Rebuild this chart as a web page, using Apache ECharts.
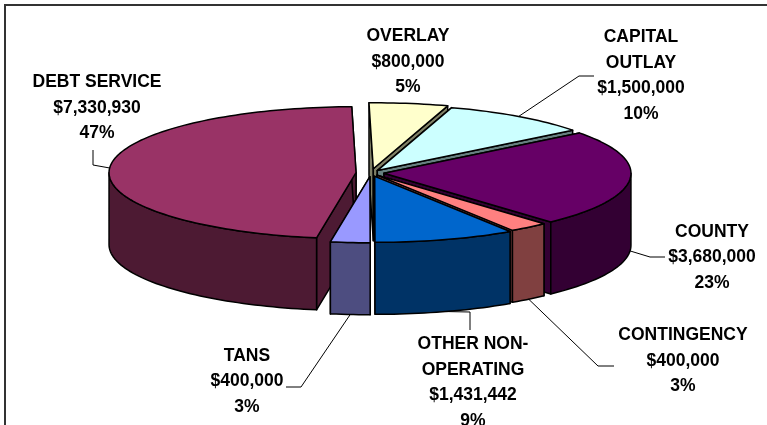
<!DOCTYPE html>
<html><head><meta charset="utf-8">
<style>html,body{margin:0;padding:0;background:#fff;overflow:hidden}#c{width:767px;height:425px}</style>
<script src="https://cdn.jsdelivr.net/npm/echarts@6/dist/echarts.min.js"></script>
</head><body><div id="c"></div>
<script>
// Data, clockwise from the top of the pie
var categories = ['OVERLAY','CAPITAL OUTLAY','COUNTY','CONTINGENCY','OTHER NON-OPERATING','TANS','DEBT SERVICE'];
var values = [800000,1500000,3680000,400000,1431442,400000,7330930];
var amountLabels = ['$800,000','$1,500,000','$3,680,000','$400,000','$1,431,442','$400,000','$7,330,930'];
var percentLabels = ['5%','10%','23%','3%','9%','3%','47%'];
var labelLines = [['OVERLAY'],['CAPITAL','OUTLAY'],['COUNTY'],['CONTINGENCY'],['OTHER NON-','OPERATING'],['TANS'],['DEBT SERVICE']];

// Styling
var topColors = ['#FFFFCC','#CCFFFF','#660066','#FF8080','#0066CC','#9999FF','#993366'];
var wallColors = ['#808066','#668080','#330033','#804040','#003366','#4D4D80','#4D1A33'];
var explode = [16,11,13,10,13,14,15];

// Layout of the pseudo-3D pie
var CX=371, CY=173, RX=247, RY=66, DEPTH=72, START=-1;
var labelCentres = [[408,62],[641,75.5],[712,257.5],[683,361],[473,382.5],[247,381.5],[97,108]];
var leaderElbows = [null,[[579,76],[594,76]],[[650,257],[665,257]],[[598,366],[614,366]],[[470,312],[470,330]],[[301,387],[286,387]],[[93,165],[93,150]]];

var total = values.reduce(function(a,b){return a+b;},0);
var rad = Math.PI/180;
var slices = [], acc = START;
values.forEach(function(v,i){
  var sweep = v/total*360, a0 = acc, a1 = acc+sweep, mid = (a0+a1)/2;
  acc = a1;
  slices.push({i:i,a0:a0,a1:a1,mid:mid,
    cx:CX+explode[i]*Math.sin(mid*rad),
    cy:CY-explode[i]*Math.cos(mid*rad)*RY/RX});
});
function pt(s,a,dz){return [s.cx+RX*Math.sin(a*rad), s.cy-RY*Math.cos(a*rad)+(dz||0)];}
function arc(s,a0,a1,dz){
  var pts=[], n=Math.max(2,Math.ceil((a1-a0)/1.5));
  for(var k=0;k<=n;k++) pts.push(pt(s,a0+(a1-a0)*k/n,dz));
  return pts;
}
// back-to-front painting order
var paintOrder = slices.slice().sort(function(a,b){return Math.cos(b.mid*rad)-Math.cos(a.mid*rad);});
var stroke = {stroke:'#000',lineWidth:1.5,lineJoin:'round'};
function poly(points,fill){return {type:'polygon',shape:{points:points},style:Object.assign({fill:fill},stroke)};}

function renderSlice(params,api){
  var s = slices[api.value(0)], i=s.i, wall=wallColors[i], ch=[];
  var apex=[s.cx,s.cy], apexB=[s.cx,s.cy+DEPTH];
  [s.a0,s.a1].forEach(function(a){
    var p=pt(s,a), q=pt(s,a,DEPTH);
    ch.push(poly([apex,p,q,apexB],wall));
  });
  var w0=Math.max(s.a0,90), w1=Math.min(s.a1,270);
  if(w1>w0){
    ch.push(poly(arc(s,w0,w1,0).concat(arc(s,w0,w1,DEPTH).reverse()),wall));
  }
  ch.push(poly([apex].concat(arc(s,s.a0,s.a1,0)),topColors[i]));
  return {type:'group',children:ch};
}
function renderLabel(params,api){
  var i=api.value(0), s=slices[i], ch=[];
  if(leaderElbows[i]){
    var c=Math.cos(s.mid*rad);
    var start=pt(s,s.mid,c<-0.01?DEPTH:0);
    ch.push({type:'polyline',shape:{points:[start].concat(leaderElbows[i])},style:{stroke:'#000',lineWidth:1,fill:null}});
  }
  var text=labelLines[i].concat([amountLabels[i],percentLabels[i]]).join('\n');
  ch.push({type:'text',x:labelCentres[i][0],y:labelCentres[i][1],style:{
    text:text,fill:'#000',font:'bold 17.5px "Liberation Sans", Arial, sans-serif',
    lineHeight:25.6,textAlign:'center',textVerticalAlign:'middle'}});
  return {type:'group',children:ch};
}
var chart = echarts.init(document.getElementById('c'),null,{renderer:'canvas'});
chart.setOption({
  animation:false,
  backgroundColor:'#fff',
  graphic:[{type:'rect',silent:true,z:0,shape:{x:5,y:5,width:900,height:600},style:{fill:'#fff',stroke:'#333',lineWidth:2}}],
  series:[
    {type:'custom',coordinateSystem:'none',z:2,silent:true,clip:false,
     data:paintOrder.map(function(s){return [s.i,values[s.i],categories[s.i]];}),
     encode:{value:0},renderItem:renderSlice},
    {type:'custom',coordinateSystem:'none',z:3,silent:true,clip:false,
     data:slices.map(function(s){return [s.i,values[s.i],categories[s.i]];}),
     encode:{value:0},renderItem:renderLabel}
  ]
});
</script></body></html>
